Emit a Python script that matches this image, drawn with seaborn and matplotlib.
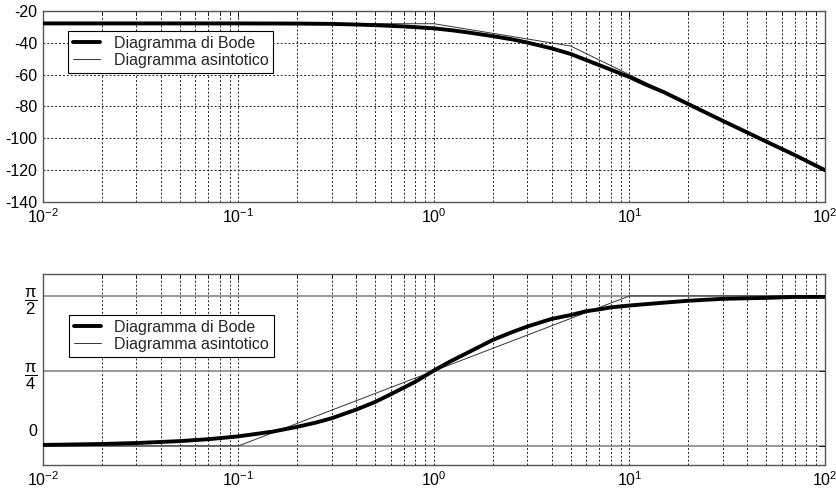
import numpy as np
import pandas as pd
import matplotlib
matplotlib.use("Agg")
import matplotlib.pyplot as plt
import seaborn as sns
from matplotlib.ticker import LogLocator, FixedLocator, NullFormatter

# ---- data ----
freq_mag = [0.01, 0.1, 0.2, 0.3, 0.4, 0.5, 0.7, 1, 1.25, 1.5, 2, 2.5, 3, 4, 5, 6, 7, 8, 10, 12, 15,
            20, 30, 50, 70, 100]
mag_bode = [-27.8, -27.8, -27.9, -28.1, -28.5, -28.9, -29.7, -30.9, -32.2, -33.5, -35.8, -37.8,
            -39.8, -43.5, -47.0, -50.8, -54.0, -56.8, -61.5, -66.0, -71.0, -78.5, -89.0, -102.0,
            -110.5, -120.0]
freq_mag_asym = [0.01, 1, 5, 100]
mag_asym = [-28, -28, -42, -120]

freq_ph = [0.01, 0.02, 0.03, 0.05, 0.07, 0.1, 0.15, 0.2, 0.25, 0.3, 0.4, 0.5, 0.6, 0.7, 0.8, 1,
           1.2, 1.5, 2, 2.5, 3, 4, 5, 6, 7, 8, 10, 15, 20, 30, 50, 70, 100]
ph_bode = [0.01, 0.02, 0.03, 0.05, 0.07, 0.10, 0.15, 0.20, 0.245, 0.29, 0.38, 0.46, 0.54, 0.61,
           0.67, 0.79, 0.88, 0.98, 1.11, 1.19, 1.25, 1.33, 1.37, 1.41, 1.43, 1.45, 1.47, 1.50,
           1.52, 1.54, 1.55, 1.56, 1.56]
freq_ph_asym = [0.01, 0.1, 10, 100]
ph_asym = [0, 0, np.pi / 2, np.pi / 2]

ytick_ph = [0, np.pi / 4, np.pi / 2]
ytick_ph_labels = ["0\n\n", r"$\dfrac{\pi}{4}$", r"$\dfrac{\pi}{2}$"]
legend_labels = ["Diagramma di Bode", "Diagramma asintotico"]

sns.set_style("white")
plt.rcParams["font.family"] = ["Liberation Sans", "DejaVu Sans"]
plt.rcParams["axes.unicode_minus"] = False
plt.rcParams["mathtext.fontset"] = "custom"
plt.rcParams["mathtext.rm"] = "Liberation Sans"
plt.rcParams["mathtext.it"] = "Liberation Sans"
plt.rcParams["mathtext.bf"] = "Liberation Sans:bold"

W, H = 837, 494
fig = plt.figure(figsize=(W / 100, H / 100), dpi=100)
ax1 = fig.add_axes([43 / W, (H - 202) / H, 782 / W, 191 / H])
ax2 = fig.add_axes([43 / W, (H - 465) / H, 782 / W, 191 / H])

df_mb = pd.DataFrame({"f": freq_mag, "v": mag_bode})
df_ma = pd.DataFrame({"f": freq_mag_asym, "v": mag_asym})
df_pb = pd.DataFrame({"f": freq_ph, "v": ph_bode})
df_pa = pd.DataFrame({"f": freq_ph_asym, "v": ph_asym})

for ax, dfb, dfa in [(ax1, df_mb, df_ma), (ax2, df_pb, df_pa)]:
    ax.set_xscale("log")
    sns.lineplot(data=dfb, x="f", y="v", ax=ax, color="black", linewidth=2.8,
                 label=legend_labels[0], estimator=None, sort=False, zorder=4)
    sns.lineplot(data=dfa, x="f", y="v", ax=ax, color="#333333", linewidth=0.7,
                 label=legend_labels[1], estimator=None, sort=False, zorder=3)
    ax.set_xlim(0.01, 100)
    ax.set_xlabel("")
    ax.set_ylabel("")
    ax.xaxis.set_major_locator(LogLocator(base=10, numticks=10))
    ax.xaxis.set_minor_locator(LogLocator(base=10, subs=np.arange(2, 10), numticks=20))
    ax.xaxis.set_minor_formatter(NullFormatter())
    ax.grid(True, which="both", axis="x", color="#222222", linestyle=(0, (2, 2)), linewidth=0.7)
    ax.tick_params(axis="both", which="both", direction="in", top=True, right=True,
                   labelsize=11.5, colors="black", length=4, width=0.6, pad=4)
    ax.tick_params(axis="both", which="minor", length=3)
    for s in ax.spines.values():
        s.set_color("#555555")
        s.set_linewidth(1.0)
        s.set_visible(True)
    ax.set_axisbelow(True)

ax1.set_ylim(-140, -20)
ax1.yaxis.set_major_locator(FixedLocator(np.arange(-140, -19, 20)))
ax1.grid(True, which="major", axis="y", color="#222222", linestyle=(0, (2, 2)), linewidth=0.7)

ax2.set_ylim(-0.2, 1.8)
ax2.set_yticks(ytick_ph)
ax2.set_yticklabels(ytick_ph_labels)
ax2.grid(True, which="major", axis="y", color="#888888", linestyle="-", linewidth=1.2)
for lab in ax2.get_yticklabels():
    lab.set_fontsize(12)
ax2.get_yticklabels()[0].set_fontsize(11.5)

leg_kw = dict(loc="upper left", fontsize=11.5, frameon=True, fancybox=False, framealpha=1,
              edgecolor="black", handlelength=1.7, handletextpad=0.85, borderpad=0.3,
              labelspacing=0.12, borderaxespad=0)
leg1 = ax1.legend(bbox_to_anchor=(0.032, 0.895), **leg_kw)
leg2 = ax2.legend(bbox_to_anchor=(0.033, 0.785), **leg_kw)
for leg in (leg1, leg2):
    leg.get_frame().set_linewidth(0.8)

fig.savefig("out.png", dpi=100)
